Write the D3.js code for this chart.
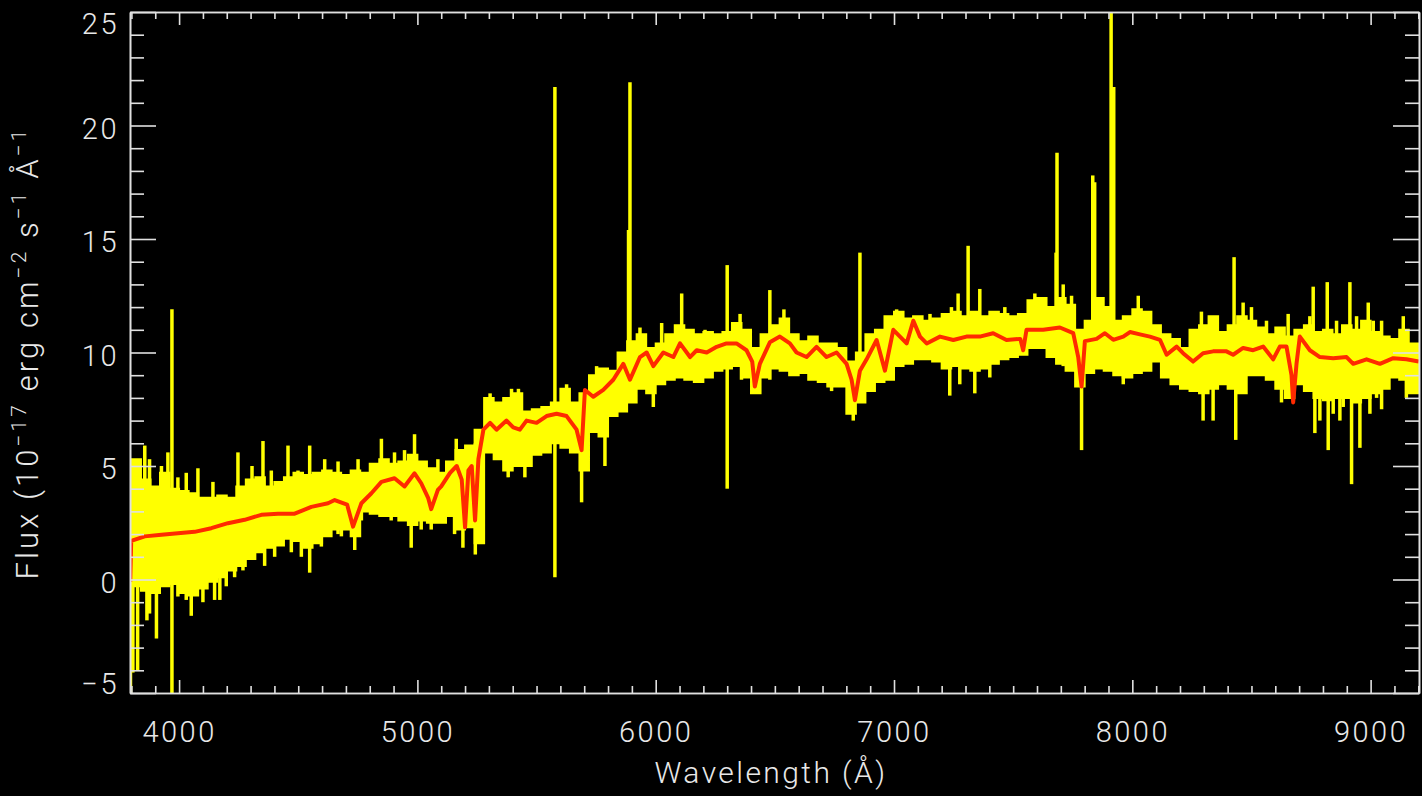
<!DOCTYPE html>
<html>
<head>
<meta charset="utf-8">
<script src="https://cdn.jsdelivr.net/npm/d3@7"></script>
<style>
  html, body { margin: 0; padding: 0; background: #000; }
  svg { display: block; }
  text { font-family: Roboto, "DejaVu Sans", sans-serif; font-weight: 300; fill: #e8e8e8; }
</style>
</head>
<body>
<svg id="chart" width="1422" height="796"></svg>
<script>
const binStart = 3800, binWidth = 40;
const fluxHi = [5.3,4.4,4.1,4.7,4.0,3.9,3.8,3.6,3.6,3.7,3.6,4.1,4.4,4.5,4.1,4.3,4.5,4.7,4.6,4.7,
  4.8,4.7,4.6,4.8,4.7,5.1,5.3,5.1,5.2,5.5,5.2,4.9,4.7,5.2,5.7,5.9,6.6,8.0,7.8,8.0,
  8.2,7.4,7.5,7.6,7.8,8.4,7.8,8.2,9.0,9.3,9.2,10.0,10.5,10.8,10.2,10.4,10.8,11.2,11.0,10.8,
  10.9,10.8,10.9,11.3,11.0,10.2,10.8,11.2,11.5,10.8,10.5,10.7,10.4,10.4,10.2,9.6,10.0,10.8,11.0,11.6,
  11.8,11.5,11.6,11.4,11.5,11.7,11.8,11.6,11.8,11.6,11.8,11.7,11.6,11.7,12.3,12.4,12.0,12.4,12.1,11.0,
  11.4,12.4,12.0,11.4,11.6,11.9,11.8,11.2,10.8,10.6,10.2,11.0,11.2,11.6,10.9,11.2,11.6,11.4,11.1,10.8,
  11.1,10.7,11.0,11.2,10.9,11.0,10.8,11.2,11.0,11.4,10.9,10.7,10.6,11.0,10.4];
const fluxLo = [-0.3,-0.5,-0.6,-0.3,-0.2,-0.6,-0.7,-0.4,-0.1,0.1,0.4,0.6,0.9,1.2,1.4,1.5,1.8,1.7,1.4,1.6,
  1.9,2.2,2.2,1.9,3.0,2.9,2.8,2.8,2.6,2.4,2.6,2.5,2.5,2.8,2.2,2.3,1.6,5.6,5.3,4.8,
  5.0,5.0,5.5,5.6,6.0,5.8,5.6,4.8,6.5,6.3,7.2,7.4,7.8,8.4,8.2,8.6,8.8,8.9,8.8,8.7,
  8.9,9.2,9.3,9.4,8.9,8.2,8.9,9.3,9.2,9.0,9.1,8.8,8.7,8.5,8.5,7.3,7.8,8.3,8.7,8.8,
  9.4,9.5,9.7,9.7,9.6,9.3,9.4,9.3,9.2,9.3,9.5,9.7,9.8,9.9,10.2,10.2,9.8,9.5,9.2,8.5,
  9.1,9.3,9.2,9.0,8.9,9.1,9.2,9.6,8.9,8.6,8.4,8.3,8.2,8.4,8.6,8.4,8.2,9.0,9.0,8.8,
  8.4,8.0,8.6,8.3,8.0,7.9,8.0,8.0,7.8,8.0,8.2,8.4,8.9,8.8,8.2];

// single-pixel excursions (sky lines, emission lines, noise), wavelength with upper and lower end
const spikeWave = [3796,3806,3826,3856,3865,3876,3876,3905,3926,3953,3970,3995,3995,4030,4030,4051,4079,4100,4142,4149,
  4171,4198,4233,4247,4268,4306,4352,4359,4387,4401,4457,4471,4499,4513,4548,4597,4611,4667,4681,4737,
  4751,4765,4814,4849,4890,4904,4946,4974,4988,5016,5058,5086,5156,5163,
  5191,5243,5305,5381,5395,5424,5451,5577,5626,5689,5752,5787,5886,5892,5934,5990,6025,6109,6207,6300,
  6354,6360,6479,6538,6738,6829,6857,7011,7151,7234,7241,7269,7276,7311,7339,7360,7402,7465,7591,7680,
  7684,7710,7745,7787,7834,7842,7911,7922,7962,8025,8290,8297,8339,8427,8434,8465,8500,8563,8626,8654,
  8745,8759,8766,8787,8818,8822,8843,8857,8871,8885,8913,8920,8941,8955,8990,8997,9011,9025,9046,9137,
  9150];
const spikeTop = [5.3,2.0,2.0,5.9,2.0,5.3,2.0,2.0,5.0,5.6,11.9,4.5,2.0,4.7,2.0,2.0,4.9,2.0,4.3,2.0,
  2.0,2.0,2.0,5.6,2.0,5.0,6.1,2.0,4.8,2.0,5.9,2.0,4.8,2.0,5.9,2.0,5.3,5.2,2.5,2.5,
  5.3,3.0,5.1,6.2,3.0,5.6,5.7,4.0,6.4,3.0,3.0,5.3,3.0,6.2,
  5.0,6.0,8.2,6.0,8.4,8.4,6.0,21.7,8.6,6.0,9.4,7.0,15.4,21.9,11.1,9.0,11.3,12.6,11.0,13.85,
  11.7,10.0,12.75,11.9,9.5,9.0,14.4,11.9,11.7,10.0,12.0,12.6,10.0,14.7,10.0,12.8,10.0,12.0,12.6,14.4,
  18.8,13.0,12.5,10.5,17.8,17.5,26.0,21.7,10.0,12.5,11.8,9.0,9.0,14.2,9.0,12.2,12.0,11.4,9.0,11.7,
  11.6,12.9,9.0,9.0,13.1,9.0,9.0,11.4,9.0,9.0,13.1,9.0,11.6,9.0,12.2,9.0,11.4,9.0,11.4,11.6,
  9.0];
const spikeBottom = [-5.6,-4.1,-4.0,1.0,-1.8,1.0,-1.5,-2.6,1.0,1.0,-5.6,1.0,-0.75,1.0,-0.9,-1.6,1.0,-1.0,1.0,-0.9,
  -0.9,-0.3,0.1,1.0,0.4,1.0,2.0,0.6,2.0,1.0,2.0,1.2,2.0,1.0,0.3,1.45,2.0,2.0,1.9,1.3,
  2.0,2.6,3.0,3.0,2.6,3.0,3.0,1.4,3.0,2.2,2.2,3.0,2.0,3.0,
  1.4,1.1,6.0,4.5,6.0,6.0,4.5,0.1,6.0,3.4,7.0,5.0,8.0,8.0,9.0,7.6,9.0,9.0,9.0,4.0,
  9.5,8.8,8.8,9.5,8.3,7.0,8.8,10.0,10.0,8.1,10.0,10.0,8.6,9.5,8.2,10.0,8.9,10.0,10.5,10.0,
  10.0,9.4,9.5,5.7,9.5,9.5,10.0,10.0,8.6,9.5,9.0,7.0,7.0,9.0,6.15,9.0,9.5,9.0,7.8,9.0,
  9.0,9.0,6.45,7.0,9.0,5.7,7.3,9.0,7.0,7.6,9.0,4.2,9.0,5.8,9.0,7.3,9.0,8.0,7.5,9.0,
  8.0];

// best-fit model spectrum
const modelWave = [3795,3799,3856,3926,3995,4065,4135,4205,4275,4345,4415,4485,4555,4625,4653,4705,4730,4765,4807,4849,
  4904,4946,4988,5016,5045,5058,5086,5100,5137,5165,5186,5200,5214,5228,5242,5256,5277,5305,5332,5374,
  5402,5430,5458,5500,5542,5584,5626,5668,5689,5703,5738,5780,5822,5864,5892,5934,5962,5990,6032,6074,
  6102,6144,6172,6214,6256,6297,6339,6381,6405,6416,6437,6479,6521,6563,6591,6633,6675,6717,6759,6801,
  6822,6836,6857,6885,6927,6962,6997,7025,7053,7081,7109,7137,7193,7249,7304,7360,7416,7472,7530,7542,
  7556,7626,7696,7752,7773,7787,7801,7850,7885,7920,7962,7990,8032,8074,8116,8144,8186,8213,8255,8297,
  8339,8395,8423,8465,8507,8549,8591,8619,8647,8668,8675,8689,8703,8745,8787,8843,8899,8927,8983,9039,
  9095,9150,9202];
const modelFlux = [-0.1,1.7,1.9,1.97,2.04,2.1,2.26,2.48,2.63,2.85,2.9,2.9,3.2,3.36,3.5,3.3,2.33,3.36,3.8,4.3,
  4.46,4.1,4.68,4.24,3.6,3.1,3.95,4.1,4.7,5.0,4.4,2.3,4.8,5.0,2.6,5.3,6.6,6.9,6.6,7.0,
  6.7,6.6,7.0,6.9,7.2,7.3,7.2,6.6,5.7,8.35,8.05,8.35,8.8,9.5,8.8,9.8,10.0,9.4,10.0,9.8,
  10.4,9.8,10.1,10.0,10.25,10.4,10.4,10.1,9.6,8.5,9.5,10.45,10.7,10.4,10.0,9.8,10.25,9.8,10.0,9.5,
  8.8,7.9,9.2,9.7,10.55,9.2,11.0,10.7,10.4,11.4,10.7,10.4,10.7,10.55,10.7,10.7,10.85,10.55,10.6,10.1,
  11.0,11.0,11.1,10.85,9.8,8.5,10.5,10.6,10.85,10.56,10.7,10.9,10.8,10.7,10.56,9.9,10.26,9.97,9.6,9.97,
  10.05,10.05,9.9,10.2,10.1,10.26,9.7,10.26,10.26,9.0,7.8,9.5,10.7,10.1,9.8,9.75,9.8,9.5,9.7,9.5,
  9.75,9.7,9.6];

const xTicks = [4000, 5000, 6000, 7000, 8000, 9000];
const yTicks = [-5, 0, 5, 10, 15, 20, 25];

const plot = {left: 130, right: 1419, top: 12, bottom: 693};
const svg = d3.select("#chart");

const x = d3.scaleLinear().domain([3794, 9203]).range([plot.left, plot.right]);
const y = d3.scaleLinear().domain([-5, 25]).range([plot.bottom, plot.top]);

svg.append("rect").attr("width", 1422).attr("height", 796).attr("fill", "#000");

svg.append("clipPath").attr("id", "plotclip")
  .append("rect")
  .attr("x", plot.left).attr("y", plot.top)
  .attr("width", plot.right - plot.left).attr("height", plot.bottom - plot.top);

const data = svg.append("g").attr("clip-path", "url(#plotclip)");

// yellow band of the observed flux
const bins = fluxHi.map((h, i) => ({w: binStart + i * binWidth, hi: h, lo: fluxLo[i]}));
const last = bins[bins.length - 1];
bins.push({w: last.w + binWidth, hi: last.hi, lo: last.lo});

data.append("path")
  .datum(bins)
  .attr("d", d3.area()
    .x(d => x(d.w))
    .y0(d => y(d.lo))
    .y1(d => y(d.hi))
    .curve(d3.curveStepAfter))
  .attr("fill", "#ffff00")
  .attr("stroke", "#ffff00")
  .attr("stroke-width", 2);

data.selectAll("line.spike")
  .data(spikeWave)
  .join("line")
  .attr("class", "spike")
  .attr("x1", d => x(d)).attr("x2", d => x(d))
  .attr("y1", (d, i) => y(spikeTop[i]))
  .attr("y2", (d, i) => y(spikeBottom[i]))
  .attr("stroke", "#ffff00")
  .attr("stroke-width", 3.5);

// red model
data.append("path")
  .datum(modelWave.map((w, i) => [w, modelFlux[i]]))
  .attr("d", d3.line().x(d => x(d[0])).y(d => y(d[1])))
  .attr("fill", "none")
  .attr("stroke", "#ff2a00")
  .attr("stroke-width", 4)
  .attr("stroke-linejoin", "round");

// axes: major + minor ticks on all four sides
const xMinor = d3.range(3800, 9201, 100).filter(v => v % 1000 !== 0);
const yMinor = d3.range(-5, 26, 1).filter(v => v % 5 !== 0);

function styleAxis(g) {
  g.selectAll("path, line").attr("stroke", "#e0e0e0").attr("stroke-width", 1.6);
  g.selectAll("text").attr("fill", "#e8e8e8").attr("font-size", 29)
    .attr("letter-spacing", 2.5)
    .attr("font-family", "Roboto, 'DejaVu Sans', sans-serif");
}

svg.append("g").attr("transform", `translate(0,${plot.bottom})`)
  .call(d3.axisBottom(x).tickValues(xTicks).tickSize(-13).tickSizeOuter(0).tickPadding(28).tickFormat(d3.format("d")))
  .call(styleAxis);
svg.append("g").attr("transform", `translate(0,${plot.bottom})`)
  .call(d3.axisBottom(x).tickValues(xMinor).tickSize(-7).tickSizeOuter(0).tickFormat(""))
  .call(styleAxis);
svg.append("g").attr("transform", `translate(0,${plot.top})`)
  .call(d3.axisTop(x).tickValues(xTicks).tickSize(-13).tickSizeOuter(0).tickFormat(""))
  .call(styleAxis);
svg.append("g").attr("transform", `translate(0,${plot.top})`)
  .call(d3.axisTop(x).tickValues(xMinor).tickSize(-7).tickSizeOuter(0).tickFormat(""))
  .call(styleAxis);

const yAxis = svg.append("g").attr("transform", `translate(${plot.left},0)`)
  .call(d3.axisLeft(y).tickValues(yTicks).tickSize(-26).tickSizeOuter(0).tickPadding(11))
  .call(styleAxis);
// IDL keeps the end labels inside the axis range
yAxis.selectAll(".tick text")
  .attr("dy", null)
  .attr("dominant-baseline", "central")
  .attr("y", d => {
    const c = Math.max(plot.top + 11, Math.min(plot.bottom - 10, y(d) + 2.5));
    return c - y(d);
  });
svg.append("g").attr("transform", `translate(${plot.left},0)`)
  .call(d3.axisLeft(y).tickValues(yMinor).tickSize(-14).tickSizeOuter(0).tickFormat(""))
  .call(styleAxis);
svg.append("g").attr("transform", `translate(${plot.right},0)`)
  .call(d3.axisRight(y).tickValues(yTicks).tickSize(-26).tickSizeOuter(0).tickFormat(""))
  .call(styleAxis);
svg.append("g").attr("transform", `translate(${plot.right},0)`)
  .call(d3.axisRight(y).tickValues(yMinor).tickSize(-14).tickSizeOuter(0).tickFormat(""))
  .call(styleAxis);

// axis titles
function fitText(sel, target) {
  const node = sel.node();
  const len = node.getComputedTextLength();
  const n = node.textContent.length;
  sel.attr("letter-spacing", (target - len) / n);
}

const xTitle = svg.append("text")
  .attr("x", 771).attr("y", 783)
  .attr("text-anchor", "middle")
  .attr("font-size", 30)
  .text("Wavelength (Å)");
fitText(xTitle, 233);

const yTitle = svg.append("text")
  .attr("transform", "translate(38,353) rotate(-90)")
  .attr("text-anchor", "middle")
  .attr("font-size", 31);
const parts = [["Flux (10", 0], ["−17", 1], [" erg cm", 0], ["−2", 1], [" s", 0], ["−1", 1], [" Å", 0], ["−1", 1]];
let raised = false;
parts.forEach(([t, sup]) => {
  const ts = yTitle.append("tspan").text(t);
  if (sup && !raised) { ts.attr("dy", -12).attr("font-size", 21); raised = true; }
  else if (sup) { ts.attr("font-size", 21); }
  else if (raised) { ts.attr("dy", 12); raised = false; }
});
fitText(yTitle, 453);
</script>
</body>
</html>
